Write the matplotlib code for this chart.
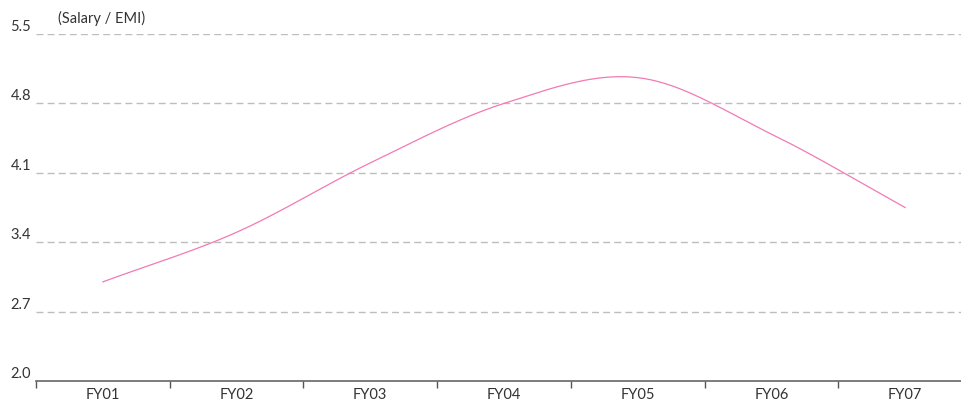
import numpy as np
import matplotlib
matplotlib.use("Agg")
import matplotlib.pyplot as plt

plt.rcParams['font.family'] = ['Lato', 'DejaVu Sans']

years = ['FY01', 'FY02', 'FY03', 'FY04', 'FY05', 'FY06', 'FY07']
ratio = [3.0, 3.5, 4.2, 4.8, 5.06, 4.49, 3.75]
y_ticks = [2.0, 2.7, 3.4, 4.1, 4.8, 5.5]


def smooth(xs, ys, n=40):
    # cardinal (Catmull-Rom) spline through the points
    xs = np.asarray(xs, float)
    ys = np.asarray(ys, float)
    m = np.zeros_like(ys)
    m[1:-1] = (ys[2:] - ys[:-2]) / (xs[2:] - xs[:-2])
    m[0] = (ys[1] - ys[0]) / (xs[1] - xs[0])
    m[-1] = (ys[-1] - ys[-2]) / (xs[-1] - xs[-2])
    out_x, out_y = [], []
    for i in range(len(xs) - 1):
        h = xs[i + 1] - xs[i]
        t = np.linspace(0, 1, n, endpoint=(i == len(xs) - 2))
        h00 = 2 * t**3 - 3 * t**2 + 1
        h10 = t**3 - 2 * t**2 + t
        h01 = -2 * t**3 + 3 * t**2
        h11 = t**3 - t**2
        out_x.append(xs[i] + t * h)
        out_y.append(h00 * ys[i] + h10 * h * m[i] + h01 * ys[i + 1] + h11 * h * m[i + 1])
    return np.concatenate(out_x), np.concatenate(out_y)


fig = plt.figure(figsize=(9.62, 4.0), dpi=100)
ax = fig.add_axes([36 / 962, 19 / 400, 936 / 962, 347 / 400])

x = np.arange(len(years))
sx, sy = smooth(x, ratio)
ax.plot(sx, sy, color='#f27ab3', linewidth=0.9, zorder=3)

ax.set_xlim(-0.5, len(years) - 0.5)
ax.set_ylim(2.0, 5.5)

for v in y_ticks[1:]:
    ax.axhline(v, color='#bdbdbd', linewidth=1.0, linestyle=(0, (5, 3)), zorder=1)
for v in y_ticks:
    ax.text(-0.005, v, f'{v:.1f}', transform=ax.get_yaxis_transform(),
            ha='right', va='bottom', fontsize=10.5, color='#333333')

ax.set_yticks([])
ax.set_xticks(x)
ax.set_xticklabels(years, fontsize=10.5, color='#333333')
ax.tick_params(axis='x', length=0, pad=5)
ax.set_xticks(np.arange(len(years) + 1) - 0.5, minor=True)
ax.tick_params(axis='x', which='minor', length=5, width=1, color='#555555')

for s in ['top', 'right', 'left']:
    ax.spines[s].set_visible(False)
ax.spines['bottom'].set_color('#666666')
ax.spines['bottom'].set_linewidth(1.2)

fig.text(58 / 962, 1 - 18 / 400, '(Salary / EMI)', ha='left', va='center',
         fontsize=10.5, color='#333333')

fig.savefig('out.png', dpi=100)
